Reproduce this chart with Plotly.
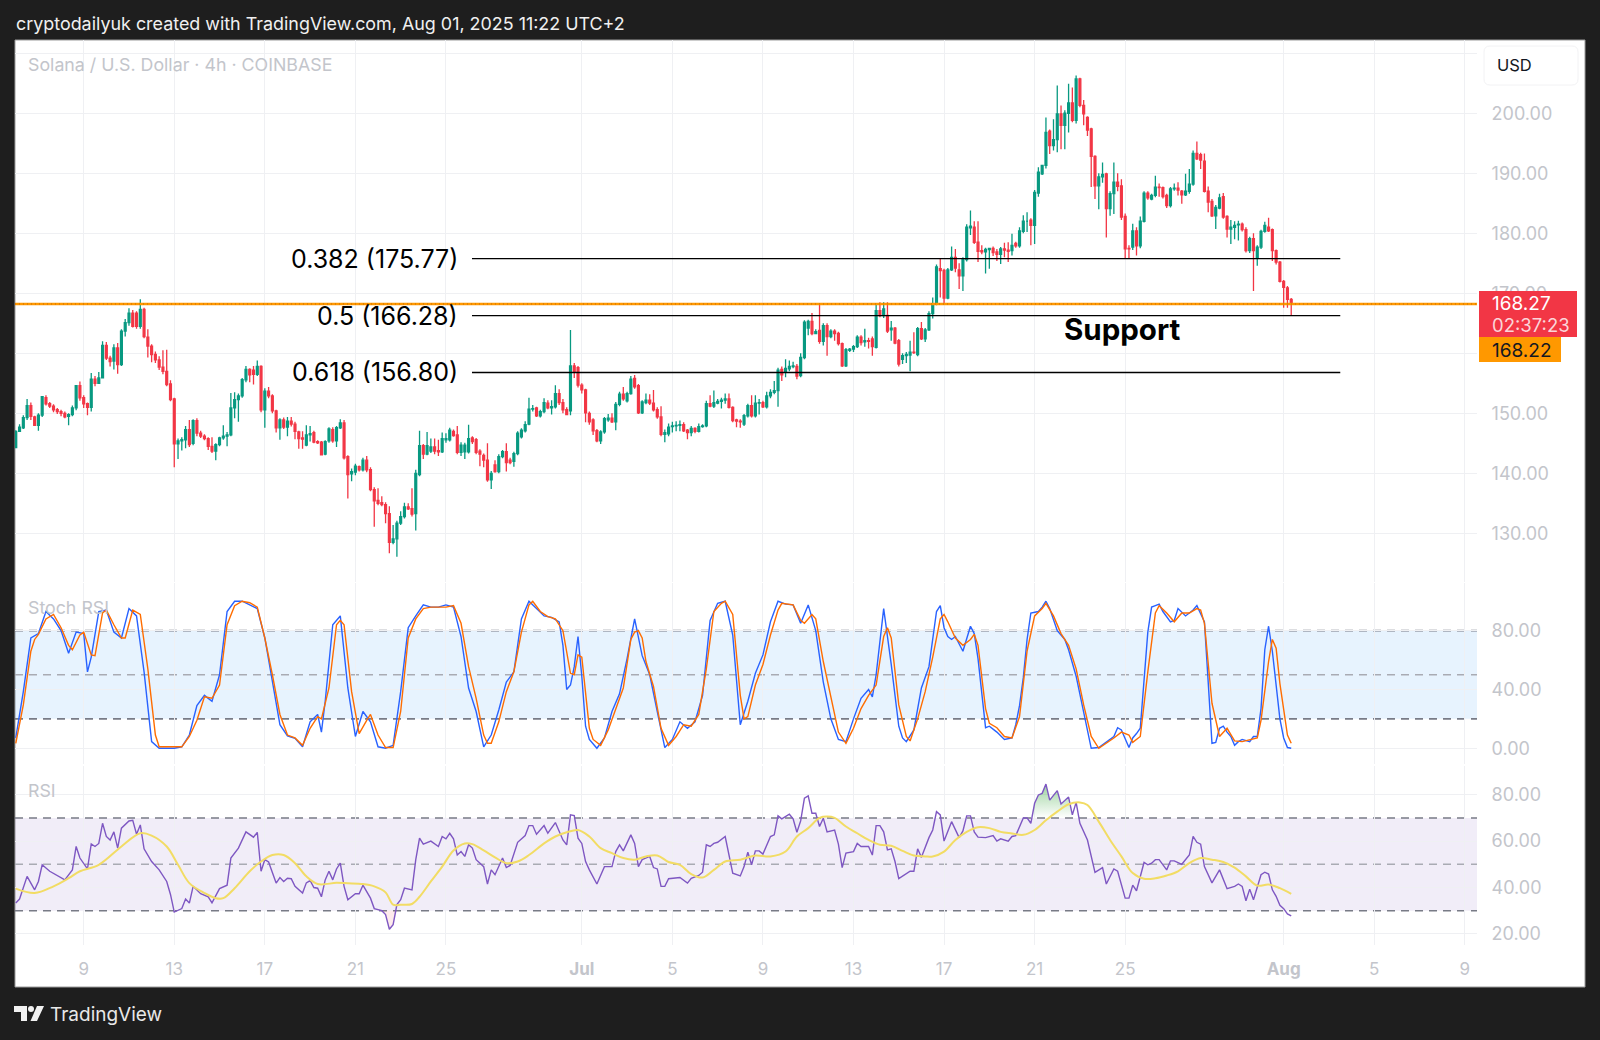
import pandas as pd
import plotly.graph_objects as go
from plotly.subplots import make_subplots

# ---- candles, one row of numbers per 20 bars, 4h bars from Jun 6 00:00
opens = [
    144.3,147.0,147.6,149.3,151.3,149.4,148.0,149.7,152.6,151.6,151.2,150.6,150.3,150.0,149.5,149.8,150.9,154.6,152.6,151.6,
    151.0,155.7,155.0,155.9,161.3,159.2,158.7,160.9,158.1,163.7,165.1,166.7,166.7,164.5,167.3,162.7,161.2,159.8,158.9,157.7,
    157.0,154.9,152.4,144.9,145.4,145.6,147.3,145.0,148.8,146.7,146.2,145.8,144.5,143.7,144.8,145.9,146.2,146.4,150.9,152.3,
    152.9,155.6,157.3,157.2,156.5,157.8,150.6,153.7,152.9,150.4,147.6,148.9,147.7,148.7,148.2,146.9,145.9,144.7,146.4,146.8,
    145.3,145.2,143.2,145.4,147.3,145.4,147.6,148.4,142.8,139.9,140.2,141.1,140.6,142.2,140.6,137.3,135.5,135.1,134.8,133.3,
    128.5,129.1,131.7,132.8,134.4,134.1,133.3,139.8,144.6,143.2,143.7,144.4,143.8,143.6,145.6,145.6,147.0,146.4,143.5,143.6,
    143.6,145.9,145.6,143.7,143.0,142.2,138.9,141.4,140.3,142.8,143.6,142.2,142.0,143.3,146.1,147.1,148.2,150.7,150.9,149.6,
    150.3,151.7,150.9,151.1,153.3,151.8,150.6,150.4,157.9,157.6,154.7,153.9,150.0,148.9,147.1,145.4,146.9,148.9,149.2,148.6,
    151.5,153.2,152.1,153.3,155.8,154.6,150.1,151.8,152.2,151.7,150.6,149.4,146.5,146.6,147.8,147.9,148.0,148.1,147.2,146.8,
    147.5,147.0,147.8,147.9,151.6,151.2,151.7,152.0,152.2,152.4,151.0,148.9,148.7,148.2,149.6,151.3,149.6,151.7,151.8,151.1,
    152.9,153.5,153.8,157.3,156.9,157.4,157.8,157.8,156.3,159.3,164.2,165.3,163.3,163.8,162.0,164.6,162.8,163.7,163.3,161.6,
    157.9,160.5,160.7,161.1,162.7,161.9,162.1,162.4,161.0,167.1,166.3,166.3,163.9,164.2,162.1,159.0,159.6,159.7,160.2,159.8,
    164.1,162.4,163.9,166.6,168.2,174.1,173.8,169.2,173.9,176.0,173.9,172.9,175.6,180.9,181.0,178.5,177.1,176.9,177.3,177.5,
    176.9,176.5,177.4,177.2,177.1,178.3,177.9,180.3,182.0,182.2,181.3,186.7,189.9,191.3,197.0,194.6,195.6,199.9,198.0,200.0,
    201.7,198.8,205.7,201.3,199.3,197.4,192.8,187.9,189.4,189.9,184.1,186.6,188.5,187.9,182.8,177.5,177.7,180.4,177.9,182.0,
    186.7,185.7,186.3,187.7,187.6,186.3,184.6,187.4,187.5,187.0,186.4,187.0,188.2,193.3,193.1,192.0,187.0,185.3,182.9,184.2,
    186.1,182.8,180.7,181.0,181.4,181.5,180.6,177.1,179.1,175.9,177.7,180.3,181.0,180.6,177.1,175.2,172.0,170.9,169.0,
]
highs = [
    147.2,148.2,149.7,152.4,151.8,149.6,150.0,152.9,153.0,151.9,151.5,150.9,150.6,150.3,150.0,151.3,154.7,155.3,153.0,151.8,
    156.7,156.2,156.9,162.0,161.9,159.6,161.5,161.7,164.0,165.7,167.5,167.2,167.0,169.0,167.6,164.0,161.5,160.3,159.5,160.5,
    160.6,155.5,152.6,145.8,146.0,147.9,148.9,149.0,149.2,147.1,146.5,146.0,146.0,145.0,146.1,148.0,146.9,153.4,153.5,153.3,
    155.9,157.9,157.5,157.9,158.8,158.0,154.2,154.4,153.2,150.6,149.2,149.3,149.4,149.4,148.6,147.1,147.0,148.0,147.9,147.1,
    145.5,145.4,145.5,147.7,147.7,147.9,149.0,148.9,143.0,140.8,141.6,141.3,142.6,142.9,141.0,137.7,137.5,136.2,135.2,134.5,
    131.4,132.1,133.7,135.1,135.0,137.5,140.6,147.1,144.9,146.9,145.8,145.8,145.6,146.8,146.7,147.6,147.3,147.9,145.2,145.1,
    148.1,146.2,145.9,144.0,143.3,145.0,140.4,142.2,143.2,143.9,145.0,142.6,143.6,147.0,147.5,148.7,152.6,151.4,151.1,150.6,
    152.5,152.2,152.2,154.7,154.0,152.4,151.0,163.9,158.4,157.9,155.0,154.1,150.3,149.2,147.4,147.2,149.4,149.9,150.0,151.9,
    153.6,154.4,153.6,156.2,156.4,154.9,152.2,153.3,153.2,153.9,151.0,151.2,147.3,148.3,148.6,148.7,148.8,148.5,147.4,147.9,
    147.7,148.3,148.2,152.1,153.0,153.8,152.4,152.6,153.3,153.3,151.2,149.1,149.0,149.9,151.6,153.0,153.0,152.4,152.1,153.6,
    154.0,155.4,157.6,157.8,159.0,158.8,158.6,158.2,160.0,165.5,165.6,166.7,164.0,168.1,165.0,165.0,164.0,164.0,163.6,161.8,
    160.9,160.9,161.4,163.0,163.0,164.1,162.6,162.8,168.1,168.5,168.5,168.5,165.4,164.4,162.4,160.0,160.2,162.1,163.5,164.4,
    165.2,164.2,167.0,169.3,174.8,175.9,174.1,174.2,177.8,177.4,175.0,176.0,181.5,183.8,182.0,182.0,178.0,177.6,177.6,177.8,
    177.4,177.7,178.4,178.5,179.9,178.6,181.0,183.0,183.5,182.5,187.2,191.0,191.3,199.3,197.3,199.0,204.6,201.3,200.5,204.9,
    204.3,206.3,205.9,202.2,199.5,197.6,193.0,190.0,191.8,190.1,187.0,191.8,190.0,189.0,183.3,178.0,181.6,181.0,182.8,187.0,
    187.0,186.6,189.6,188.3,187.8,186.6,187.7,188.3,188.5,187.2,189.9,190.7,193.8,195.3,193.4,193.3,187.8,185.7,184.7,186.6,
    186.7,183.0,182.2,182.0,182.1,181.8,181.0,179.4,180.0,178.0,180.6,181.9,182.6,180.8,177.3,175.4,172.2,171.2,169.2,
]
lows = [
    144.3,146.9,147.4,148.9,148.9,147.9,147.1,149.4,151.3,150.9,150.2,149.9,149.5,149.2,148.0,149.5,150.5,152.1,150.9,149.7,
    150.3,154.5,154.9,155.8,158.9,157.8,157.3,156.6,157.9,162.8,164.6,164.3,164.1,164.1,162.5,159.3,158.5,158.4,157.2,156.5,
    154.5,152.0,141.0,142.4,143.8,144.2,144.4,144.7,146.2,145.9,145.5,143.9,143.4,142.2,144.5,145.6,144.5,146.2,149.2,148.6,
    152.6,155.2,155.2,154.8,156.2,150.2,147.6,152.5,150.0,146.8,145.6,147.4,146.2,147.8,145.7,144.1,144.1,144.5,145.3,145.0,
    144.9,143.0,143.0,145.1,145.1,144.4,147.4,142.3,135.8,138.7,139.7,140.3,140.3,140.2,137.0,131.1,134.7,134.5,131.7,126.7,
    128.2,126.1,131.4,132.5,133.9,132.8,130.5,139.5,142.4,143.0,143.4,143.2,142.9,143.4,145.1,145.3,146.1,143.2,142.9,142.4,
    143.3,144.9,143.2,141.2,141.0,138.6,137.4,140.1,140.0,142.5,140.3,141.5,141.1,143.0,145.8,146.8,148.0,150.3,149.4,149.3,
    150.0,150.7,149.8,150.8,151.4,150.0,149.7,149.7,155.9,154.3,153.3,148.5,148.1,146.4,145.2,144.9,146.6,148.6,148.4,147.2,
    151.2,152.1,151.8,153.1,154.1,149.9,149.9,151.5,151.4,150.3,149.1,146.2,145.2,146.2,146.8,147.0,147.0,146.9,145.7,146.2,
    146.7,146.8,147.6,147.7,151.0,150.9,151.5,150.8,151.6,150.8,148.5,147.7,147.6,147.9,149.3,149.3,149.3,149.8,150.9,150.8,
    152.5,153.2,151.1,155.4,156.0,157.0,157.5,155.7,156.0,159.0,163.0,163.0,163.2,161.6,161.3,159.6,162.5,162.1,161.3,157.7,
    157.7,160.2,160.2,160.9,161.3,161.1,160.8,159.6,160.8,166.0,165.9,163.4,162.1,161.5,157.8,158.2,158.4,157.0,159.9,159.5,
    162.2,161.9,163.7,165.8,168.0,169.3,168.2,169.0,173.7,173.5,170.7,170.4,175.3,179.7,178.2,175.2,176.5,173.3,174.1,176.2,
    175.4,174.9,176.0,175.2,176.3,177.6,177.6,180.0,180.2,178.0,178.2,186.1,189.7,190.8,193.2,193.8,193.5,194.0,194.0,196.8,
    198.5,198.3,201.0,198.0,196.2,187.7,185.7,184.0,188.4,179.3,182.9,183.2,187.0,182.2,175.7,175.7,177.2,176.3,177.5,181.8,
    185.6,185.5,186.0,186.1,185.8,184.2,184.3,187.1,186.3,184.9,186.2,186.6,187.9,192.2,190.7,186.8,183.5,182.7,180.7,184.0,
    182.4,179.3,178.2,179.0,178.8,180.3,176.8,176.7,170.4,174.6,177.4,180.1,180.2,175.4,174.8,171.8,167.6,167.6,166.3,
]
closes = [
    147.0,147.7,149.3,151.3,149.5,148.0,149.7,152.8,151.6,151.2,150.6,150.3,150.0,149.4,149.8,150.9,154.6,152.6,151.6,151.0,
    155.7,155.0,155.9,161.3,159.2,158.6,160.9,158.1,163.7,165.1,166.7,164.5,164.5,167.3,162.8,161.2,159.8,158.9,157.7,157.0,
    154.8,152.3,144.9,145.4,145.6,147.3,144.8,148.8,146.7,146.2,145.8,144.5,143.7,144.8,145.9,146.2,146.4,150.9,152.3,152.9,
    155.6,157.3,156.4,156.5,157.8,150.6,153.7,152.9,150.4,147.6,148.9,147.7,148.7,148.2,147.0,145.8,145.7,146.4,146.6,145.2,
    145.1,143.1,145.3,147.4,145.4,147.6,148.4,142.6,139.8,140.3,141.2,140.6,142.2,140.6,137.3,135.4,135.0,134.8,133.3,128.5,
    129.1,131.7,132.8,134.4,134.1,133.2,140.0,144.6,143.2,144.6,144.4,143.7,143.6,145.8,145.8,147.2,146.3,143.5,144.7,144.7,
    145.8,145.3,143.5,143.2,142.2,138.9,140.0,140.3,142.8,143.6,141.8,141.8,143.3,146.7,147.2,148.1,150.7,150.8,149.6,150.3,
    151.8,150.9,151.1,153.3,151.8,150.6,149.8,157.9,156.9,154.7,153.9,150.1,148.6,147.1,145.4,146.9,149.1,149.2,148.6,151.5,
    153.2,152.4,153.3,155.7,154.4,150.1,151.9,152.2,151.7,150.6,149.4,146.5,146.8,147.7,147.9,148.0,148.1,147.1,146.8,147.5,
    147.0,147.8,147.9,151.6,151.2,151.8,152.0,152.2,152.4,151.0,148.8,148.7,148.6,149.6,151.3,149.6,151.7,151.8,151.1,152.9,
    153.5,153.8,157.2,156.4,157.5,157.8,157.9,156.2,159.3,165.2,165.3,163.3,163.6,162.0,164.6,162.8,163.7,163.3,161.6,157.9,
    160.6,160.7,161.1,162.7,161.8,162.1,162.0,161.1,167.1,166.3,167.4,163.7,164.2,161.7,158.2,159.6,159.8,160.2,160.1,164.1,
    162.4,163.9,166.6,168.1,174.4,173.8,169.2,173.9,176.0,174.2,172.9,175.6,181.0,181.2,178.5,177.0,176.9,177.3,177.5,176.8,
    176.5,177.4,177.2,177.0,178.0,177.9,180.4,182.0,182.0,181.3,186.8,190.2,191.3,196.8,194.6,195.6,199.9,198.0,200.0,201.7,
    198.8,205.7,201.3,199.9,197.2,192.8,187.9,189.4,189.8,184.1,186.6,188.5,187.8,182.7,177.4,177.4,180.4,177.9,182.0,186.7,
    185.9,186.3,187.7,187.6,186.1,184.6,187.4,187.5,187.2,186.4,187.0,188.2,193.3,192.4,192.2,187.0,185.2,182.9,184.3,185.9,
    182.7,180.7,181.0,181.3,181.5,180.6,177.1,179.1,177.1,177.7,180.3,181.3,180.4,177.1,175.2,172.0,171.0,169.0,168.27,
]

# ---- Stoch RSI, read at the bars where the line turns
stoch_k_bars = [
    0,2,4,6,8,10,12,14,16,18,19,20,22,24,26,28,30,32,34,36,38,40,42,44,46,48,50,52,54,56,58,60,62,64,66,68,70,72,74,76,
    78,80,81,82,84,86,88,90,92,94,96,98,100,102,104,106,108,110,112,114,116,118,120,122,124,126,128,130,132,134,136,138,
    140,142,144,145,146,147,148,149,150,151,152,154,156,158,160,162,164,166,168,170,172,174,176,178,180,182,184,186,188,
    190,192,194,196,198,200,202,204,206,208,210,212,214,216,218,220,222,224,226,227,228,230,232,234,235,236,238,240,242,
    244,245,246,247,248,249,251,253,254,255,257,258,260,262,264,265,266,267,268,269,271,272,273,274,276,278,279,281,283,
    284,285,287,289,291,292,293,295,296,297,298,300,301,302,303,304,306,307,308,310,311,312,313,315,316,317,318,319,320,
    321,322,323,324,325,327,328,329,330,331,332,333,334,335,336,337,338,
]
stoch_k = [
    7,38.5,75,78,93,88,80,64.6,79,78,52,62,93,94,79,75,95,90,52,4.5,0,0,0,1,9,29,36,32,50,93,100,100,97.5,95,75,45,16,8.4,6.8,1,
    18,23,11,32,84,90,41,8,25,18,1,0,2,38.5,82,90,97.5,96,96,97.5,96,76,41,25,1,9,26,45,52,88,100,95,
    90,89,86,70,40,43,55.5,76,49,15,6,0,7,25,37,61,88,63,50,25,0.5,6,18,13.6,18,36,87,98.6,100,
    77,16,32,51,63.5,86,100,98,97.5,85,97.5,80,45,20,6,4.5,20,34,40,35,50,95,57,15,7,4.5,12.5,41,55.5,
    93,97,82,76,74,76,66,83,78,61,14,15,11,6,7,16,29,48,74,92,93,96,100,95,80,74,67,49,24,
    14,0,0.5,4.5,8,14,12.5,0.5,7,10,13.6,79,96,97,98,93,86,87,95,90,92,94,97,86,45,3.4,4,13.6,15,
    11,8,2,4.5,6,4.5,8,8,27,67,83,66,43,20,7,0.5,0,
]
stoch_d_bars = [
    0,2,4,5,6,8,10,12,14,15,17,18,20,21,23,24,26,28,29,31,33,35,37,38,44,46,48,50,52,54,56,58,60,62,64,66,68,70,72,74,76,78,
    80,81,83,85,86,87,89,91,93,94,96,98,100,102,104,106,108,110,112,114,116,118,120,122,124,125,126,128,130,132,134,136,137,
    139,141,143,145,147,148,149,150,152,153,155,157,159,161,163,164,165,166,167,169,171,173,175,177,179,181,183,185,187,188,
    190,192,193,194,196,198,200,202,203,206,208,209,211,212,214,216,218,220,222,224,226,228,230,231,232,234,236,237,239,241,
    243,245,246,247,249,251,253,254,255,257,258,260,262,264,266,268,270,272,273,275,277,279,281,283,285,287,289,291,293,295,
    296,298,300,302,303,305,307,309,311,313,314,315,317,319,321,323,325,327,329,330,332,333,334,335,336,337,338,
]
stoch_d = [
    3.4,29.5,66,74,77.5,88,91,82,70,67,77,79,63.5,63,92,94,84,75,75,94,91,54,9,1,1,8,19,35,34,43,84,97,100,99,96,75,50,23,9,7,2,13.6,
    21.5,20,41,84,87,84,38.5,10,19,23,9,0.5,0.5,25,75,88,95,96,96,96,97,85,55.5,34,9,3.4,3.4,18,38.5,52,79,97.5,100,
    93,89.5,88,80,51,50,63.5,62,13.6,6,2,12.5,27,41,74,79,80,75,59,42,13.6,2,8,16,15,23,54,93,98.6,100,
    91,36,20,21.5,43,57,77,94,98.6,97.5,87,85,91,88,59,34,11,3.4,13.6,27,36,43,76,82,75,29.5,8,5,20,38.5,
    62,88,91,86,75,70,74,77.5,70,27,17,14,8,7,21.5,66,90,95,98.6,90,78,70,54,29.5,8,0,3.4,7,11,9,
    4,8,52,92,97,92,86,92,92,95,94,85,30.6,8,13.6,5,4.5,6,7,19,59,74,68,44,27,9,3.4,
]

# ---- RSI and its moving average
rsi_bars = [
    0,1,3,5,6,7,9,11,13,15,16,17,19,20,21,22,23,24,25,26,27,28,30,31,32,33,34,36,38,40,41,42,44,45,46,47,49,51,52,54,56,57,59,61,63,64,65,66,67,69,
    70,71,72,73,74,76,77,78,79,80,81,82,83,84,85,86,87,88,90,91,92,94,95,97,98,99,100,101,102,103,105,106,107,108,110,112,113,
    114,115,116,117,118,119,120,121,122,124,125,126,127,129,130,131,133,135,136,137,138,140,141,143,145,146,147,148,149,150,151,152,154,156,158,159,160,161,163,164,165,166,168,169,170,171,172,173,176,178,179,181,182,183,184,185,186,188,
    190,192,193,194,195,196,197,198,200,201,202,203,205,206,207,208,209,210,211,212,213,214,215,217,218,219,220,222,223,224,226,
    227,228,229,230,231,232,233,234,237,238,239,240,242,243,244,245,246,248,250,251,252,253,254,255,257,259,260,261,263,264,265,267,268,269,270,271,272,273,274,276,277,279,280,281,282,284,286,288,289,291,292,294,295,296,297,299,
    300,301,302,303,305,306,307,309,311,312,313,314,315,317,319,321,323,324,325,326,327,328,330,331,332,333,334,335,336,337,338,
]
rsi = [
    33.3,35,44.8,39,42.6,49.8,47,45,43.3,47.6,57.7,52.7,48,58.8,57.7,59,67.7,62,60.5,64,57,65.6,68.7,69,63,67,56.7,51.2,47.6,42.6,37,29.4,30.9,35,33.3,40.5,37.3,36,33.4,39.5,41,52.7,57,64,61.7,63.8,47,52,51,41.9,
    44.3,42.6,44,43.8,40.5,37.6,42,43,40,39.7,36,43.3,47,43.3,48,50.5,40.5,34.7,37.3,37.3,41,35.4,30.9,30,28.3,22,24,32.6,34.7,39.7,39,52,61.3,58.7,60,57.7,62,
    61,63.4,61,54,55.5,53.4,58.4,57,52,49,41.5,47.6,45.5,52.7,48.6,49.5,59.5,62.4,66.7,66.7,63,66.7,63.4,68,60.5,58.4,71.3,71,61.3,59,51.2,47.6,41.5,49,49,55.5,58.4,55.8,62.7,59,49,52,53.4,48.6,48,40.5,40.5,43.8,44.3,41.9,44,45.2,46.6,58.4,57.7,59,59.5,62,
    46.2,45,49,55.2,49.8,55.8,55.8,54.4,62,62.7,70.9,69.6,71.6,69.6,63.8,68.7,78.5,79.5,72,72,66.3,69.9,64,64.8,58.7,48.6,54.8,55.5,59,57.7,57.7,
    54,66.7,66.7,64,56.2,56.7,51.2,43.8,47,47,56.7,53,61.5,64.8,72.7,71.3,60,68.4,61.5,64.4,70.9,70.9,64,61.7,61.5,62.4,60,61,60,62,62.4,70,70,67.7,76.3,79.9,80.6,84.6,77.7,81.8,76,79,71.3,76.7,67.7,60.5,46.5,48.6,41.5,48,47,35.4,35.4,41,38.6,50.8,
    49.8,50.5,52,52,47.6,51.5,51.5,50,54,62,59.5,58.7,49,42,47.6,39.5,40.5,41.5,40.5,34.3,39.3,34.7,45.5,46.6,45.8,39,36.2,32.3,30.9,28.6,27.8,
]
rsi_ma_bars = [
    0,5,10,14,17,22,28,33,36,40,43,46,50,53,55,58,62,65,68,71,74,77,80,85,88,92,95,98,100,102,105,107,110,113,
    116,119,121,124,127,130,133,136,140,143,146,149,152,155,158,161,164,167,170,173,176,179,182,185,188,192,196,200,204,207,210,213,215,217,220,223,226,
    229,232,235,238,241,243,246,249,252,255,258,261,264,267,270,273,276,279,282,284,287,290,293,296,299,302,305,308,311,314,317,320,323,326,329,332,335,338,
]
rsi_ma = [
    39.5,37.6,40.5,44,47,49.8,57.7,63.4,62.4,57.7,49.8,41.9,37.6,35.4,35.4,39.7,47,51.2,54,54,50.5,44.8,41.5,42,41.8,41.5,40.5,37.9,32.6,32.6,32.9,36,42.6,49,
    56,59,58.7,56,53,50.5,51.2,54,59,62,63.8,64.8,62,57,54.8,52.7,52,53.4,53.8,51,49.8,45.8,44.3,47.6,51.2,52,53.8,53.4,55.5,62,65.6,70,70.6,70,66.3,63.4,60.5,
    58.4,58,55.8,53.8,53.4,53.4,55.5,60.5,64,66,65.6,64,63.3,62.7,64.8,69,72.7,75.9,76.7,75.6,68.4,60.5,53.4,46.2,43.8,44,45.2,47,50.5,52.7,52,51,48.6,44.8,40.8,41.3,39.7,37.3,
]

fib_levels = [175.77, 166.28, 156.80]
fib_labels = ["0.382 (175.77)", "0.5 (166.28)", "0.618 (156.80)"]
fib_start, fib_end = "2025-06-26 03:36", "2025-08-03 12:00"
last_price, alert_price = 168.27, 168.22

x_ticks = ["2025-06-09", "2025-06-13", "2025-06-17", "2025-06-21", "2025-06-25", "2025-07-01", "2025-07-05", "2025-07-09",
           "2025-07-13", "2025-07-17", "2025-07-21", "2025-07-25", "2025-08-01", "2025-08-05", "2025-08-09"]
x_labels = ["9", "13", "17", "21", "25", "<b>Jul</b>", "5", "9", "13", "17", "21", "25", "<b>Aug</b>", "5", "9"]
price_ticks = [130, 140, 150, 160, 170, 180, 190, 200, 210]

dates = pd.date_range("2025-06-06", periods=len(closes), freq="4h")
FONT = "Inter, Roboto, sans-serif"
GRID = "#eff0f3"
GREY = "#c3c5cb"


# pixel position on the 1600x1040 page to paper coordinates
def px(x):
    return x / 1600


def py(y):
    return 1 - y / 1040


def at(bars):
    return [dates[b] for b in bars]


fig = make_subplots(rows=3, cols=1, shared_xaxes=False)

fig.add_trace(go.Candlestick(
    x=dates, open=opens, high=highs, low=lows, close=closes,
    increasing=dict(line=dict(color="#089981", width=1.3), fillcolor="#089981"),
    decreasing=dict(line=dict(color="#F23645", width=1.3), fillcolor="#F23645"),
    whiskerwidth=0, hoverinfo="skip"), row=1, col=1)

for lvl in fib_levels:
    fig.add_trace(go.Scatter(x=[fib_start, fib_end], y=[lvl, lvl], mode="lines",
                             line=dict(color="#000000", width=1.4), hoverinfo="skip"), row=1, col=1)

fig.add_trace(go.Scatter(x=at(stoch_k_bars), y=stoch_k, mode="lines",
                         line=dict(color="#2962FF", width=1.4), hoverinfo="skip"), row=2, col=1)
fig.add_trace(go.Scatter(x=at(stoch_d_bars), y=stoch_d, mode="lines",
                         line=dict(color="#FF6D00", width=1.4), hoverinfo="skip"), row=2, col=1)

# overbought / oversold glow on the RSI
over = [(b, v) for b, v in zip(rsi_bars, rsi) if 268 <= b <= 280]
fig.add_trace(go.Scatter(x=at([p[0] for p in over]) + at([p[0] for p in over][::-1]),
                         y=[max(p[1], 70) for p in over] + [70] * len(over),
                         mode="none", fill="toself", hoverinfo="skip",
                         fillgradient=dict(type="vertical",
                                           colorscale=[[0, "rgba(76,175,80,0)"], [1, "rgba(76,175,80,0.55)"]])),
              row=3, col=1)
under = [(b, v) for b, v in zip(rsi_bars, rsi) if 97 <= b <= 101]
fig.add_trace(go.Scatter(x=at([p[0] for p in under]) + at([p[0] for p in under][::-1]),
                         y=[min(p[1], 30) for p in under] + [30] * len(under),
                         mode="none", fill="toself", hoverinfo="skip", fillcolor="rgba(242,54,69,0.10)"),
              row=3, col=1)
fig.add_trace(go.Scatter(x=at(rsi_bars), y=rsi, mode="lines",
                         line=dict(color="#7E57C2", width=1.4), hoverinfo="skip"), row=3, col=1)
fig.add_trace(go.Scatter(x=at(rsi_ma_bars), y=rsi_ma, mode="lines",
                         line=dict(color="#F2DC64", width=2, shape="spline"), hoverinfo="skip"), row=3, col=1)

x_range = ["2025-06-05 23:11", "2025-08-09 12:56"]
for n, show in [("", False), ("2", False), ("3", True)]:
    fig.update_layout({"xaxis" + n: dict(
        domain=[px(15), px(1477)], range=x_range, type="date", tickmode="array", tickvals=x_ticks, ticktext=x_labels,
        showticklabels=show, showgrid=True, gridcolor=GRID, gridwidth=1, zeroline=False, showline=False,
        ticks="outside" if show else "", ticklen=9, tickcolor="rgba(0,0,0,0)", tickangle=0,
        tickfont=dict(family=FONT, size=17, color=GREY), rangeslider=dict(visible=False))})

y_common = dict(side="right", showgrid=True, gridcolor=GRID, gridwidth=1, zeroline=False, showline=False,
                ticks="outside", ticklen=10, tickcolor="rgba(0,0,0,0)", tickformat=".2f",
                tickfont=dict(family=FONT, size=18, color=GREY))
fig.update_layout(
    yaxis=dict(domain=[py(582), py(40)], range=[121.9, 212.2], tickmode="array", tickvals=price_ticks,
               ticktext=["%.2f" % t if t != 210 else "" for t in price_ticks], **y_common),
    yaxis2=dict(domain=[py(764), py(583)], range=[-10.7, 112.4], tickmode="array", tickvals=[0, 40, 80], **y_common),
    yaxis3=dict(domain=[py(945), py(766)], range=[15.2, 92.4], tickmode="array", tickvals=[20, 40, 60, 80], **y_common),
)

shapes = [
    dict(type="rect", xref="paper", yref="paper", x0=px(15), x1=px(1585), y0=py(987), y1=py(40), layer="below",
         fillcolor="#ffffff", line=dict(color="#9b9b9b", width=1)),
    dict(type="rect", xref="paper", yref="y2", x0=px(15), x1=px(1477), y0=20, y1=80, layer="below",
         fillcolor="rgba(33,150,243,0.11)", line_width=0),
    dict(type="rect", xref="paper", yref="y3", x0=px(15), x1=px(1477), y0=30, y1=70, layer="below",
         fillcolor="rgba(126,87,194,0.11)", line_width=0),
]
for yref, val, col in [("y2", 80, "#787b86"), ("y2", 50, "#a9abb3"), ("y2", 20, "#787b86"),
                       ("y3", 70, "#787b86"), ("y3", 50, "#a9abb3"), ("y3", 30, "#787b86")]:
    shapes.append(dict(type="line", xref="paper", yref=yref, x0=px(15), x1=px(1477), y0=val, y1=val, layer="between",
                       line=dict(color=col, width=1.6, dash="8px,6px")))

# alert line on the price pane
shapes.append(dict(type="line", xref="paper", yref="y", x0=px(15), x1=px(1477), y0=alert_price, y1=alert_price,
                   line=dict(color="#FF9800", width=2.6)))
shapes.append(dict(type="line", xref="paper", yref="y", x0=px(15), x1=px(1477), y0=alert_price, y1=alert_price,
                   line=dict(color="#b45f06", width=0.8, dash="1px,3px")))

# price labels and the currency button on the right
shapes.append(dict(type="rect", xref="paper", yref="paper", x0=px(1479), x1=px(1577), y0=py(337), y1=py(291),
                   fillcolor="#F23645", line_width=0))
shapes.append(dict(type="rect", xref="paper", yref="paper", x0=px(1479), x1=px(1561), y0=py(362), y1=py(337),
                   fillcolor="#FF9800", line_width=0))
shapes.append(dict(type="path", xref="paper", yref="paper",
                   path="M %f,%f L %f,%f Q %f,%f %f,%f L %f,%f Q %f,%f %f,%f L %f,%f Q %f,%f %f,%f L %f,%f Q %f,%f %f,%f Z" % (
                       px(1490), py(46), px(1572), py(46), px(1578), py(46), px(1578), py(52),
                       px(1578), py(79), px(1578), py(85), px(1572), py(85),
                       px(1490), py(85), px(1484), py(85), px(1484), py(79),
                       px(1484), py(52), px(1484), py(46), px(1490), py(46)),
                   fillcolor="#ffffff", line=dict(color="#f2f2f4", width=1)))

# TradingView mark in the footer
shapes.append(dict(type="path", xref="paper", yref="paper", line_width=0, fillcolor="#f2f2f2",
                   path="M %f,%f L %f,%f L %f,%f L %f,%f L %f,%f L %f,%f Z" % (
                       px(14), py(1006), px(27), py(1006), px(27), py(1021), px(21), py(1021), px(21), py(1012), px(14), py(1012))))
shapes.append(dict(type="circle", xref="paper", yref="paper", line_width=0, fillcolor="#f2f2f2",
                   x0=px(28), x1=px(34), y0=py(1012), y1=py(1006)))
shapes.append(dict(type="path", xref="paper", yref="paper", line_width=0, fillcolor="#f2f2f2",
                   path="M %f,%f L %f,%f L %f,%f L %f,%f Z" % (
                       px(37), py(1006), px(44), py(1006), px(37), py(1021), px(30.5), py(1021))))


def note(x, y, text, size, color, anchor="left", bold=False):
    return dict(xref="paper", yref="paper", x=px(x), y=py(y), text="<b>%s</b>" % text if bold else text,
                showarrow=False, xanchor=anchor, yanchor="middle",
                font=dict(family=FONT, size=size, color=color), borderpad=0)


annotations = [
    note(15, 23, "cryptodailyuk created with TradingView.com, Aug 01, 2025 11:22 UTC+2", 17.9, "#f0f0f0"),
    note(27, 64, "Solana / U.S. Dollar · 4h · COINBASE", 17.8, GREY),
    note(27, 607, "Stoch RSI", 17.8, GREY),
    note(27, 790, "RSI", 17.8, GREY),
    note(1496, 65, "USD", 16.5, "#131722"),
    note(1491, 303, "%.2f" % last_price, 19, "#ffffff"),
    note(1491, 325, "02:37:23", 18.5, "#fbd5d9"),
    note(1491, 350, "%.2f" % alert_price, 19, "#131722"),
    note(1063, 329, "Support", 29.5, "#000000", bold=True),
    note(49, 1014, "TradingView", 19, "#e8e8e8"),
]
for lvl, label in zip(fib_levels, fib_labels):
    annotations.append(note(459, 113.3 + (200 - lvl) * 6.0, label, 25, "#000000", anchor="right"))

fig.update_layout(
    width=1600, height=1040, margin=dict(l=0, r=0, t=0, b=0), autosize=False,
    paper_bgcolor="#1e1e1e", plot_bgcolor="rgba(0,0,0,0)", showlegend=False,
    shapes=shapes, annotations=annotations,
)

fig.write_html("out.html", config=dict(displayModeBar=False), post_script="document.body.style.margin='0';")
